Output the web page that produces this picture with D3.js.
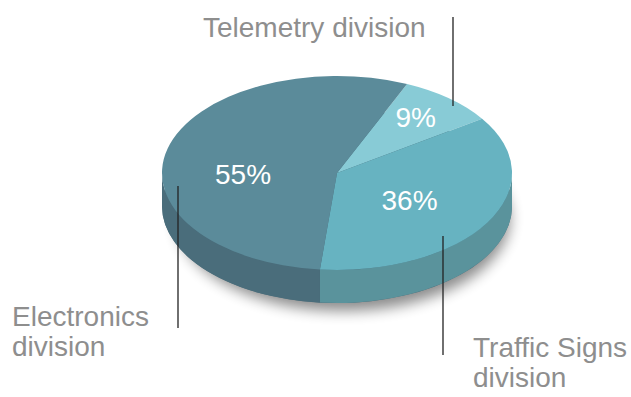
<!DOCTYPE html>
<html>
<head>
<meta charset="utf-8">
<script src="https://cdn.jsdelivr.net/npm/d3@7/dist/d3.min.js"></script>
<style>
  body { margin: 0; background: #fff; }
  text { font-family: "Liberation Sans", Arial, sans-serif; }
</style>
</head>
<body>
<script>
// data
var categories = ["Telemetry division", "Traffic Signs division", "Electronics division"];
var values = [9, 36, 55];
var topColors = ["#88cbd6", "#67b3c1", "#5b8b9a"];
var sideColors = ["#72aab5", "#5a939c", "#4a6d7b"];

var w = 631, h = 397;
var cx = 337, cy = 173, rx = 175, ry = 97, depth = 33;
var startDeg = 23.6;

// label layout (lines and text anchors)
var labelLayout = [
  { lines: ["Telemetry division"], x: 203, y: 37, anchor: "start", lx: 453, ly0: 17, ly1: 106 },
  { lines: ["Traffic Signs", "division"], x: 473, y: 357, anchor: "start", lx: 443, ly0: 236, ly1: 355 },
  { lines: ["Electronics", "division"], x: 12, y: 326, anchor: "start", lx: 178, ly0: 186, ly1: 328 }
];
// percent label position: angle in slice (deg, clockwise from top), radius fraction
var pctPos = [[38, 0.73], [124, 0.5], [269, 0.537]];

var svg = d3.select("body").append("svg")
  .attr("width", w).attr("height", h);

var defs = svg.append("defs");
defs.append("filter").attr("id", "shadow")
  .attr("x", "-20%").attr("y", "-20%").attr("width", "140%").attr("height", "160%")
  .append("feGaussianBlur").attr("stdDeviation", 7);

var pie = d3.pie().sort(null)
  .startAngle(startDeg * Math.PI / 180)
  .endAngle(startDeg * Math.PI / 180 + 2 * Math.PI);
var arcs = pie(values);

function pt(a, dy) {
  return [cx + rx * Math.sin(a), cy - ry * Math.cos(a) + (dy || 0)];
}

// shadow
svg.append("ellipse")
  .attr("cx", cx + 6).attr("cy", cy + depth + 12)
  .attr("rx", rx - 8).attr("ry", ry - 4)
  .attr("fill", "#000").attr("opacity", 0.45)
  .attr("filter", "url(#shadow)");

// bottom ellipse
svg.append("ellipse")
  .attr("cx", cx).attr("cy", cy + depth)
  .attr("rx", rx).attr("ry", ry)
  .attr("fill", sideColors[2]);

// sides (front visible half: PI/2 .. 3PI/2)
arcs.forEach(function(d, i) {
  var segs = [];
  [0, 2 * Math.PI].forEach(function(off) {
    var a0 = Math.max(d.startAngle, Math.PI / 2 + off);
    var a1 = Math.min(d.endAngle, 3 * Math.PI / 2 + off);
    if (a1 > a0) segs.push([a0, a1]);
  });
  segs.forEach(function(s) {
    var p0 = pt(s[0]), p1 = pt(s[1]);
    var b0 = pt(s[0], depth), b1 = pt(s[1], depth);
    var large = (s[1] - s[0]) > Math.PI ? 1 : 0;
    var path = "M" + p0 + " A" + rx + "," + ry + " 0 " + large + " 1 " + p1 +
      " L" + b1 + " A" + rx + "," + ry + " 0 " + large + " 0 " + b0 + " Z";
    svg.append("path").attr("d", path).attr("fill", sideColors[i]);
  });
});

// top faces
svg.selectAll("path.top")
  .data(arcs)
  .enter()
  .append("path")
  .attr("class", "top")
  .attr("fill", function(d, i) { return topColors[i]; })
  .attr("d", function(d) {
    var p0 = pt(d.startAngle), p1 = pt(d.endAngle);
    var large = (d.endAngle - d.startAngle) > Math.PI ? 1 : 0;
    return "M" + cx + "," + cy + " L" + p0 + " A" + rx + "," + ry + " 0 " + large + " 1 " + p1 + " Z";
  });

// percent labels
svg.selectAll("text.pct")
  .data(arcs)
  .enter()
  .append("text")
  .attr("class", "pct")
  .attr("text-anchor", "middle")
  .attr("font-size", 28)
  .attr("fill", "#fff")
  .attr("x", function(d, i) {
    var a = pctPos[i][0] * Math.PI / 180;
    return cx + rx * pctPos[i][1] * Math.sin(a);
  })
  .attr("y", function(d, i) {
    var a = pctPos[i][0] * Math.PI / 180;
    return cy - ry * pctPos[i][1] * Math.cos(a) + 10;
  })
  .text(function(d) { return d.data + "%"; });

// leader lines & category labels
labelLayout.forEach(function(l, i) {
  svg.append("line")
    .attr("x1", l.lx).attr("x2", l.lx)
    .attr("y1", l.ly0).attr("y2", l.ly1)
    .attr("stroke", "#222").attr("stroke-width", 1.3);
  var t = svg.append("text")
    .attr("x", l.x).attr("y", l.y)
    .attr("text-anchor", l.anchor)
    .attr("font-size", 28)
    .attr("fill", "#8e8e8e");
  l.lines.forEach(function(s, j) {
    t.append("tspan").attr("x", l.x).attr("dy", j == 0 ? 0 : 30).text(s);
  });
});
</script>
</body>
</html>
